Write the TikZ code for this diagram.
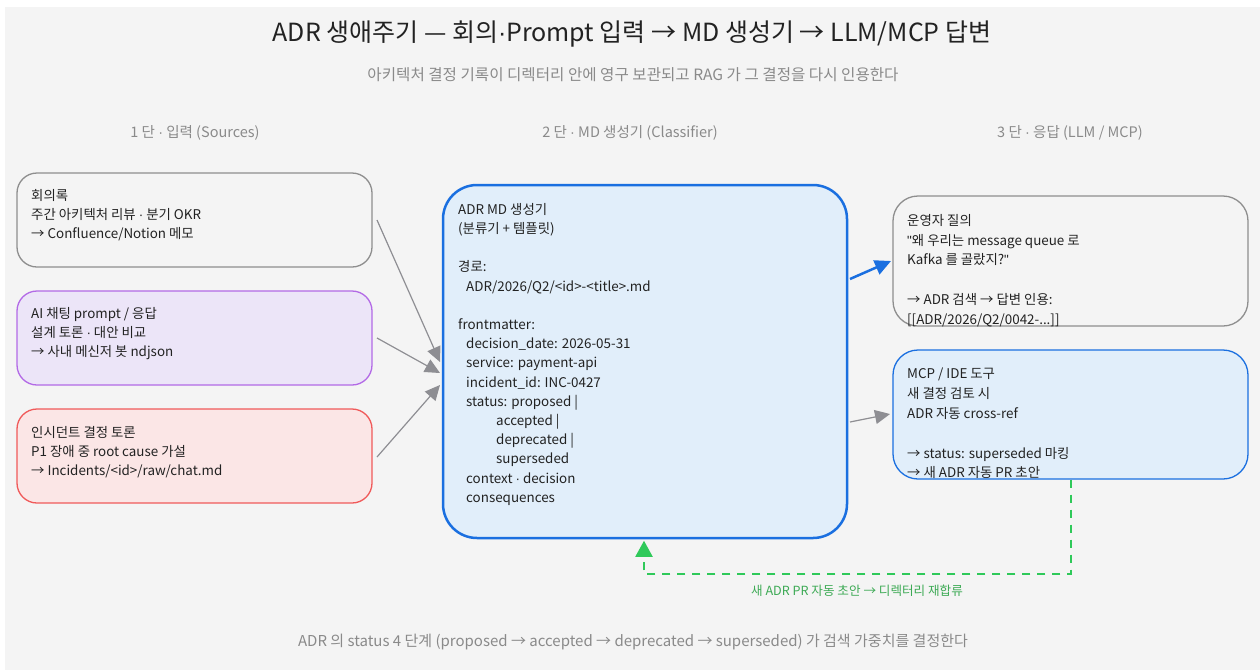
\documentclass[tikz,border=0pt]{standalone}
\usepackage{fontspec}
\setmainfont{Noto Sans CJK KR}
\newfontfamily\latf{Liberation Sans}
\newcommand{\mdot}{{\latf ·}}
\usetikzlibrary{arrows.meta,calc}
\definecolor{bg}{HTML}{F4F4F4}
\definecolor{textc}{HTML}{222222}
\definecolor{mutec}{HTML}{8A8A8A}
\definecolor{grayln}{HTML}{8E8E8E}
\definecolor{purpln}{HTML}{B36AE6}
\definecolor{purpfl}{HTML}{ECE5F8}
\definecolor{redln}{HTML}{F05A5A}
\definecolor{redfl}{HTML}{FBE6E6}
\definecolor{blueln}{HTML}{1A6FE0}
\definecolor{bluefl}{HTML}{E1EEFA}
\definecolor{arrgray}{HTML}{8E8E93}
\definecolor{greenln}{HTML}{2FC95A}
\definecolor{greentx}{HTML}{3DAA55}
\begin{document}
\begin{tikzpicture}[x=1pt,y=-1pt,
  boxshape/.style={rectangle, inner sep=0pt, line width=1.3pt},
  txt/.style={font=\fontsize{13.4}{19.2}\selectfont, align=left, inner sep=0pt, text=textc, anchor=north west},
  rtxt/.style={txt, font=\fontsize{13.4}{19.8}\selectfont},
  mute/.style={font=\fontsize{14.5}{17}\selectfont, text=mutec, inner sep=0pt},
  grayarr/.style={draw=arrgray, line width=1.2pt, -{Triangle[length=15pt,width=14pt]}},
]
\useasboundingbox (0,0) rectangle (1260,670);
\fill[bg] (5,7) rectangle (1260,670);

% titles
\node[font=\fontsize{25}{29}\selectfont, text=textc, inner sep=0pt] (title) at (632,34) {ADR 생애주기 — 회의\mdot Prompt 입력 → MD 생성기 → LLM/MCP 답변};
\node[mute, font=\fontsize{15.6}{18}\selectfont] (sub) at (633,75) {아키텍처 결정 기록이 디렉터리 안에 영구 보관되고 RAG 가 그 결정을 다시 인용한다};
\node[mute] (h1) at (195,133) {1 단 \mdot{} 입력 (Sources)};
\node[mute] (h2) at (630,133) {2 단 \mdot{} MD 생성기 (Classifier)};
\node[mute] (h3) at (1070,133) {3 단 \mdot{} 응답 (LLM / MCP)};
\node[mute, font=\fontsize{15}{18}\selectfont] (foot) at (633,642) {ADR 의 status 4 단계 (proposed → accepted → deprecated → superseded) 가 검색 가중치를 결정한다};

% left boxes
\node[boxshape, draw=grayln, fill=bg, minimum width=355pt, minimum height=94pt, rounded corners=20pt] (in1) at (194.5,220) {};
\node[boxshape, draw=purpln, fill=purpfl, minimum width=355pt, minimum height=94pt, rounded corners=20pt] (in2) at (194.5,338) {};
\node[boxshape, draw=redln, fill=redfl, minimum width=355pt, minimum height=94pt, rounded corners=20pt] (in3) at (194.5,456) {};
\node[txt] (t1) at (31,189) {회의록\\주간 아키텍처 리뷰 \mdot{} 분기 OKR\\→ Confluence/Notion 메모};
\node[txt] (t2) at (31,307) {AI 채팅 prompt / 응답\\설계 토론 \mdot{} 대안 비교\\→ 사내 메신저 봇 ndjson};
\node[txt] (t3) at (31,426) {인시던트 결정 토론\\P1 장애 중 root cause 가설\\→ Incidents/<id>/raw/chat.md};

% center box
\node[boxshape, draw=blueln, fill=bluefl, line width=2.5pt, minimum width=404pt, minimum height=353pt, rounded corners=34pt] (gen) at (645,361.5) {};
\node[txt] (tg) at (458,203) {ADR MD 생성기\\(분류기 + 템플릿)\\[19.2pt]경로:\\\hspace*{8pt}ADR/2026/Q2/<id>-<title>.md\\[19.2pt]frontmatter:\\\hspace*{8pt}decision\_date: 2026-05-31\\\hspace*{8pt}service: payment-api\\\hspace*{8pt}incident\_id: INC-0427\\\hspace*{8pt}status: proposed |\\\hspace*{38pt}accepted |\\\hspace*{38pt}deprecated |\\\hspace*{38pt}superseded\\\hspace*{8pt}context \mdot{} decision\\\hspace*{8pt}consequences};

% right boxes
\node[boxshape, draw=grayln, fill=bg, minimum width=355pt, minimum height=130pt, rounded corners=25pt] (out1) at (1070.5,261) {};
\node[boxshape, draw=blueln, fill=bluefl, minimum width=355pt, minimum height=129pt, rounded corners=25pt] (out2) at (1070.5,414.5) {};
\node[rtxt] (to1) at (907,214) {운영자 질의\\{\latf"}왜 우리는 message queue 로\\Kafka 를 골랐지?{\latf"}\\[19.8pt]→ ADR 검색 → 답변 인용:\\{[[}ADR/2026/Q2/0042-...]]};
\node[rtxt] (to2) at (907,368) {MCP / IDE 도구\\새 결정 검토 시\\ADR 자동 cross-ref\\[19.8pt]→ status: superseded 마킹\\→ 새 ADR 자동 PR 초안};

% connectors
\coordinate (a1s) at (377,220); \coordinate (a1e) at (440,362);
\coordinate (a2s) at (377,338); \coordinate (a2e) at (440,373);
\coordinate (a3s) at (377,457); \coordinate (a3e) at (440,385);
\draw[grayarr] (a1s) -- (a1e);
\draw[grayarr] (a2s) -- (a2e);
\draw[grayarr] (a3s) -- (a3e);
\coordinate (b1s) at (850,279); \coordinate (b1e) at (891,261);
\draw[draw=blueln, line width=2.5pt, -{Triangle[length=16pt,width=15pt]}] (b1s) -- (b1e);
\coordinate (b2s) at (850,422); \coordinate (b2e) at (890,414);
\draw[grayarr] (b2s) -- (b2e);

% feedback loop
\coordinate (g1) at (1071,574);
\coordinate (g2) at (644,574);
\draw[draw=greenln, line width=2pt, dash pattern=on 8pt off 7pt, -{Triangle[length=16pt,width=17pt]}]
  (out2.south -| g1) -- (g1) -- (g2) -- ($(gen.south -| g2)+(0,1.5)$);
\node[font=\fontsize{12.6}{15}\selectfont, text=greentx, inner sep=0pt] (glabel) at (857,591) {새 ADR PR 자동 초안 → 디렉터리 재합류};
\end{tikzpicture}
\end{document}
